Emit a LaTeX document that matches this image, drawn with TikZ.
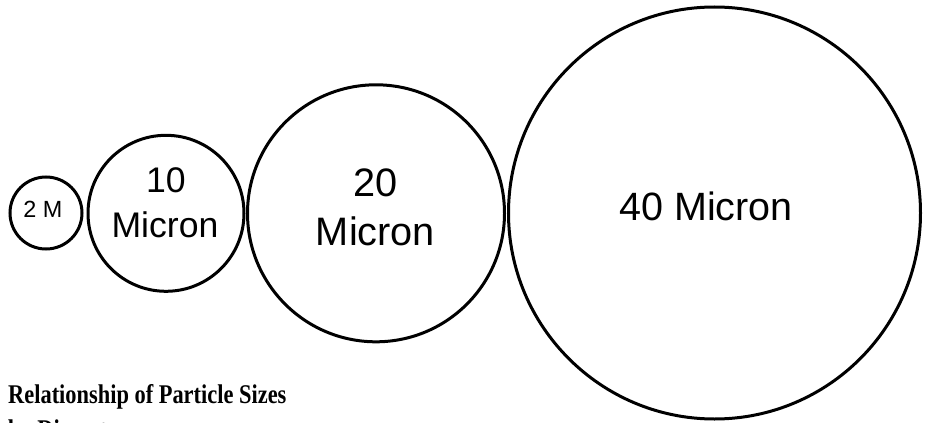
\documentclass[tikz,border=0pt]{standalone}
\usepackage{fontspec}
\setmainfont{Liberation Sans}
\newfontfamily\titlefont[FakeStretch=0.83]{Liberation Serif}
\begin{document}
\begin{tikzpicture}[x=1pt,y=-1pt,
  ring/.style={circle,draw,line width=3pt,inner sep=0pt,outer sep=0pt},
  lbl/.style={anchor=base,inner sep=0pt}]
\useasboundingbox (0,0) rectangle (930,423);
\node[ring,minimum size=72pt] (c2) at (46,213) {};
\node[ring,minimum size=156pt] (c10) at (166,213.3) {};
\node[ring,minimum size=257pt] (c20) at (376,213.3) {};
\node[ring,minimum size=412pt] (c40) at (714.5,213) {};
\node[lbl,font=\fontsize{23.4}{28}\selectfont] (t2) at (43,217) {2 M};
\node[lbl,font=\fontsize{35.6}{42}\selectfont] (t10a) at (166,192) {10};
\node[lbl,font=\fontsize{35.6}{42}\selectfont] (t10b) at (165,237) {Micron};
\node[lbl,font=\fontsize{39.7}{48}\selectfont] (t20a) at (375.5,196) {20};
\node[lbl,font=\fontsize{39.7}{48}\selectfont] (t20b) at (375.5,245) {Micron};
\node[lbl,font=\fontsize{39.5}{48}\selectfont] (t40) at (706,220) {40 Micron};
\node[anchor=base west,inner sep=0pt,align=left,font=\titlefont\bfseries\fontsize{27}{35}\selectfont] (title) at (8,438) {Relationship of Particle Sizes\\by Diameter};
\end{tikzpicture}
\end{document}
